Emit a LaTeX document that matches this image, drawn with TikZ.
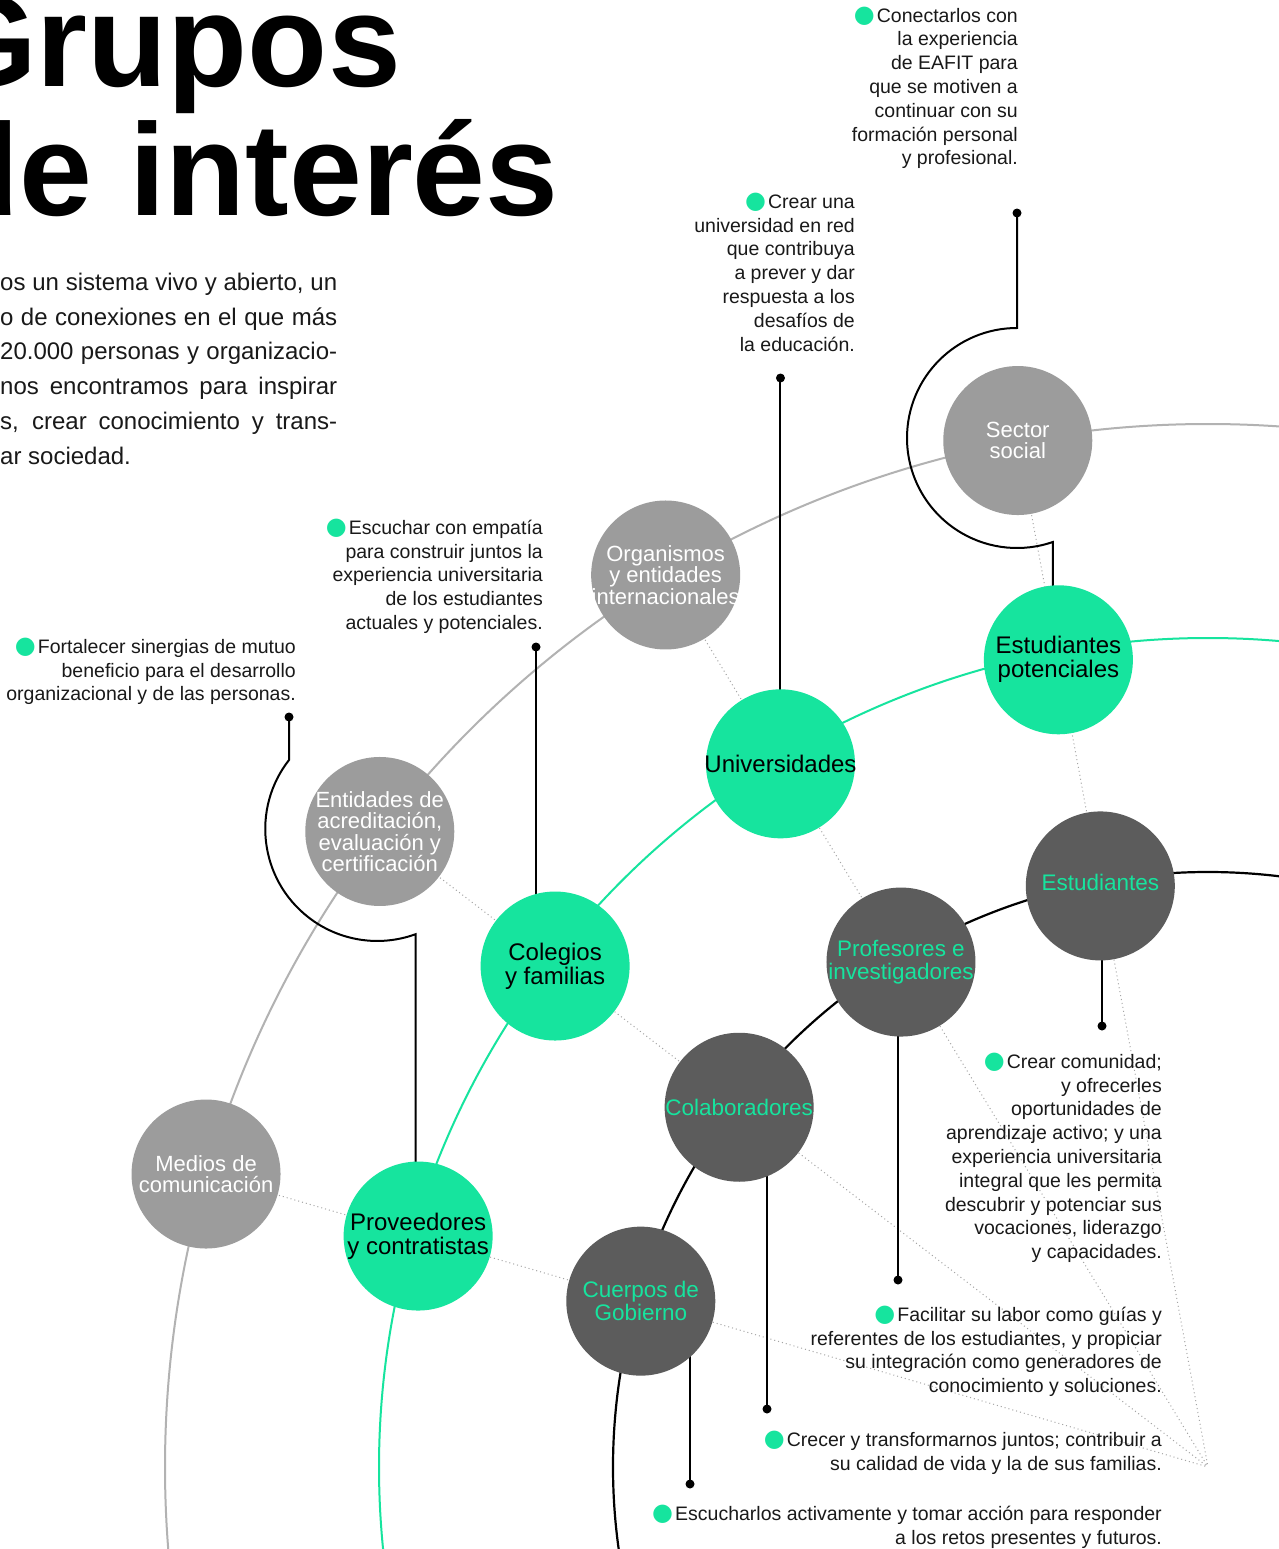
\documentclass[tikz,border=0pt]{standalone}
\usepackage{fontspec}
\setmainfont{Liberation Sans}
\newfontfamily\dejavu{DejaVu Sans}
\usetikzlibrary{calc}
\pgfdeclarelayer{bg}
\pgfsetlayers{bg,main}
\definecolor{mint}{RGB}{22,228,158}
\definecolor{lightc}{RGB}{156,156,156}
\definecolor{darkc}{RGB}{92,92,92}
\definecolor{arcgray}{RGB}{178,178,178}
\definecolor{dotgray}{RGB}{165,165,165}
\definecolor{ink}{RGB}{25,25,25}
\newcommand{\gbul}{\smash{\raisebox{-0.5pt}{\color{mint}\dejavu\fontsize{24}{24}\selectfont ●}}\hspace{2pt}}
\newcommand{\fstrut}{\rule{0pt}{16pt}}
\newcommand{\pstrut}{\rule{0pt}{18pt}}
\begin{document}
\begin{tikzpicture}[x=1pt,y=-1pt,
  bubble/.style={circle, minimum size=149pt, inner sep=0pt},
  lightb/.style={bubble, fill=lightc},
  mintb/.style={bubble, fill=mint},
  darkb/.style={bubble, fill=darkc},
  ltxt/.style={align=center, inner sep=0pt, text=white, font=\fontsize{22}{21.5}\selectfont},
  mtxt/.style={align=center, inner sep=0pt, text=black, font=\fontsize{24}{24}\selectfont},
  dtxt/.style={align=center, inner sep=0pt, text=mint, font=\fontsize{22.5}{22.5}\selectfont},
  callout/.style={align=right, anchor=north east, inner sep=0pt, text=ink, font=\fontsize{19.5}{23.8}\selectfont},
  pin/.style={circle, fill=black, inner sep=0pt, minimum size=9pt},
  conn/.style={line width=2pt, black},
  dotline/.style={dotgray, line width=1pt, dash pattern=on 1pt off 3pt},
  arcg/.style={arcgray, line width=2pt},
  arcm/.style={mint, line width=2pt},
  arck/.style={black, line width=2.2pt}
]
\useasboundingbox (0,0) rectangle (1278,1549);
\coordinate (F) at (1208,1467);

% title and intro
\node[anchor=base east, inner sep=0pt, font=\fontsize{131}{131}\selectfont\bfseries] (t1) at (401,87) {Grupos};
\node[anchor=base east, inner sep=0pt, font=\fontsize{131}{131}\selectfont\bfseries] (t2) at (559,215) {de interés};
\node[anchor=north west, inner sep=0pt, align=left, text=ink, font=\fontsize{24}{34.8}\selectfont] (para) at (0,272)
 {\pstrut\makebox[337pt][s]{os un sistema vivo y abierto, un}\\
  \makebox[337pt][s]{o de conexiones en el que más}\\
  \makebox[337pt][s]{20.000 personas y organizacio-}\\
  \makebox[337pt][s]{nos encontramos para inspirar}\\
  \makebox[337pt][s]{s, crear conocimiento y trans-}\\
  \makebox[337pt][l]{ar sociedad.}};

% bubbles
\node[lightb] (ss)  at ($(F)+(259.5:1044)$) {};
\node[lightb] (org) at ($(F)+(238.7:1044)$) {};
\node[lightb] (ent) at ($(F)+(217.5:1044)$) {};
\node[lightb] (med) at ($(F)+(196.3:1044)$) {};
\node[mintb] (ep)   at ($(F)+(259.5:821)$) {};
\node[mintb] (uni)  at ($(F)+(238.7:823)$) {};
\node[mintb] (col)  at ($(F)+(217.5:823)$) {};
\node[mintb] (prov) at ($(F)+(196.3:823)$) {};
\node[darkb] (est)   at ($(F)+(259.5:591)$) {};
\node[darkb] (prof)  at ($(F)+(238.7:591)$) {};
\node[darkb] (colab) at ($(F)+(217.5:591)$) {};
\node[darkb] (cue)   at ($(F)+(196.3:591)$) {};

\node[ltxt] (ss-t)  at (ss)  {Sector\\social};
\node[ltxt] (org-t) at (org) {Organismos\\y entidades\\internacionales};
\node[ltxt] (ent-t) at (ent) {Entidades de\\acreditación,\\evaluación y\\certificación};
\node[ltxt] (med-t) at (med) {Medios de\\comunicación};
\node[mtxt] (ep-t)   at (ep)   {Estudiantes\\potenciales};
\node[mtxt] (uni-t)  at (uni)  {Universidades};
\node[mtxt] (col-t)  at (col)  {Colegios\\y familias};
\node[mtxt] (prov-t) at (prov) {Proveedores\\y contratistas};
\node[dtxt] (est-t)   at ($(est)+(0,-3)$)   {Estudiantes};
\node[dtxt] (prof-t)  at (prof)  {Profesores e\\investigadores};
\node[dtxt] (colab-t) at (colab) {Colaboradores};
\node[dtxt] (cue-t)   at (cue)   {Cuerpos de\\Gobierno};

% callouts
\node[callout] (c1) at (1018,6) {\gbul\fstrut Conectarlos con\\la experiencia\\de EAFIT para\\que se motiven a\\continuar con su\\formación personal\\y profesional.};
\node[callout] (c2) at (855,192) {\gbul\fstrut Crear una\\universidad en red\\que contribuya\\a prever y dar\\respuesta a los\\desafíos de\\la educación.};
\node[callout] (c3) at (543,518) {\gbul\fstrut Escuchar con empatía\\para construir juntos la\\experiencia universitaria\\de los estudiantes\\actuales y potenciales.};
\node[callout] (c4) at (296,637) {\gbul\fstrut Fortalecer sinergias de mutuo\\beneficio para el desarrollo\\organizacional y de las personas.};
\node[callout] (c5) at (1162,1052) {\gbul\fstrut Crear comunidad;\\y ofrecerles\\oportunidades de\\aprendizaje activo; y una\\experiencia universitaria\\integral que les permita\\descubrir y potenciar sus\\vocaciones, liderazgo\\y capacidades.};
\node[callout] (c6) at (1162,1305) {\gbul\fstrut Facilitar su labor como guías y\\referentes de los estudiantes, y propiciar\\su integración como generadores de\\conocimiento y soluciones.};
\node[callout] (c7) at (1162,1430) {\gbul\fstrut Crecer y transformarnos juntos; contribuir a\\su calidad de vida y la de sus familias.};
\node[callout] (c8) at (1162,1504) {\gbul\fstrut Escucharlos activamente y tomar acción para responder\\a los retos presentes y futuros.};

% pins
\node[pin] (d1) at (1017,213) {};
\node[pin] (d2) at (uni.center |- 0,378) {};
\node[pin] (d3) at (536,647) {};
\node[pin] (d4) at (289,717) {};
\node[pin] (d5) at (1102,1026) {};
\node[pin] (d6) at (898,1280) {};
\node[pin] (d7) at (767,1409) {};
\node[pin] (d8) at (690,1484) {};

\begin{pgfonlayer}{bg}
\fill[white] (0,0) rectangle (1278,1549);
% radial dotted guides
\draw[dotline] (ss.center) -- (F);
\draw[dotline] (org.center) -- (F);
\draw[dotline] (ent.center) -- (F);
\draw[dotline] (med.center) -- (F);
% arcs
\draw[arcg] (F) ++(275:1043) arc[start angle=275, end angle=174, radius=1043];
\draw[arcm] (F) ++(276:829) arc[start angle=276, end angle=172, radius=829];
\draw[arck] (F) ++(278:595) arc[start angle=278, end angle=170, radius=595];
% callout connectors
\draw[conn] (d1.center) -- ++(0,115) arc[start angle=270, end angle=71, radius=110] -- ++(0,48);
\draw[conn] (d2.center) -- (uni.center);
\draw[conn] (d3.center) -- (d3.center |- col.center);
\draw[conn] (d4.center) -- ++(0,43) arc[start angle=218, end angle=70, radius=112] -- ++(0,260);
\draw[conn] (d5.center |- est.center) -- (d5.center);
\draw[conn] (d6.center |- prof.center) -- (d6.center);
\draw[conn] (d7.center |- colab.center) -- (d7.center);
\draw[conn] (d8.center |- cue.center) -- (d8.center);
\end{pgfonlayer}
\end{tikzpicture}
\end{document}
